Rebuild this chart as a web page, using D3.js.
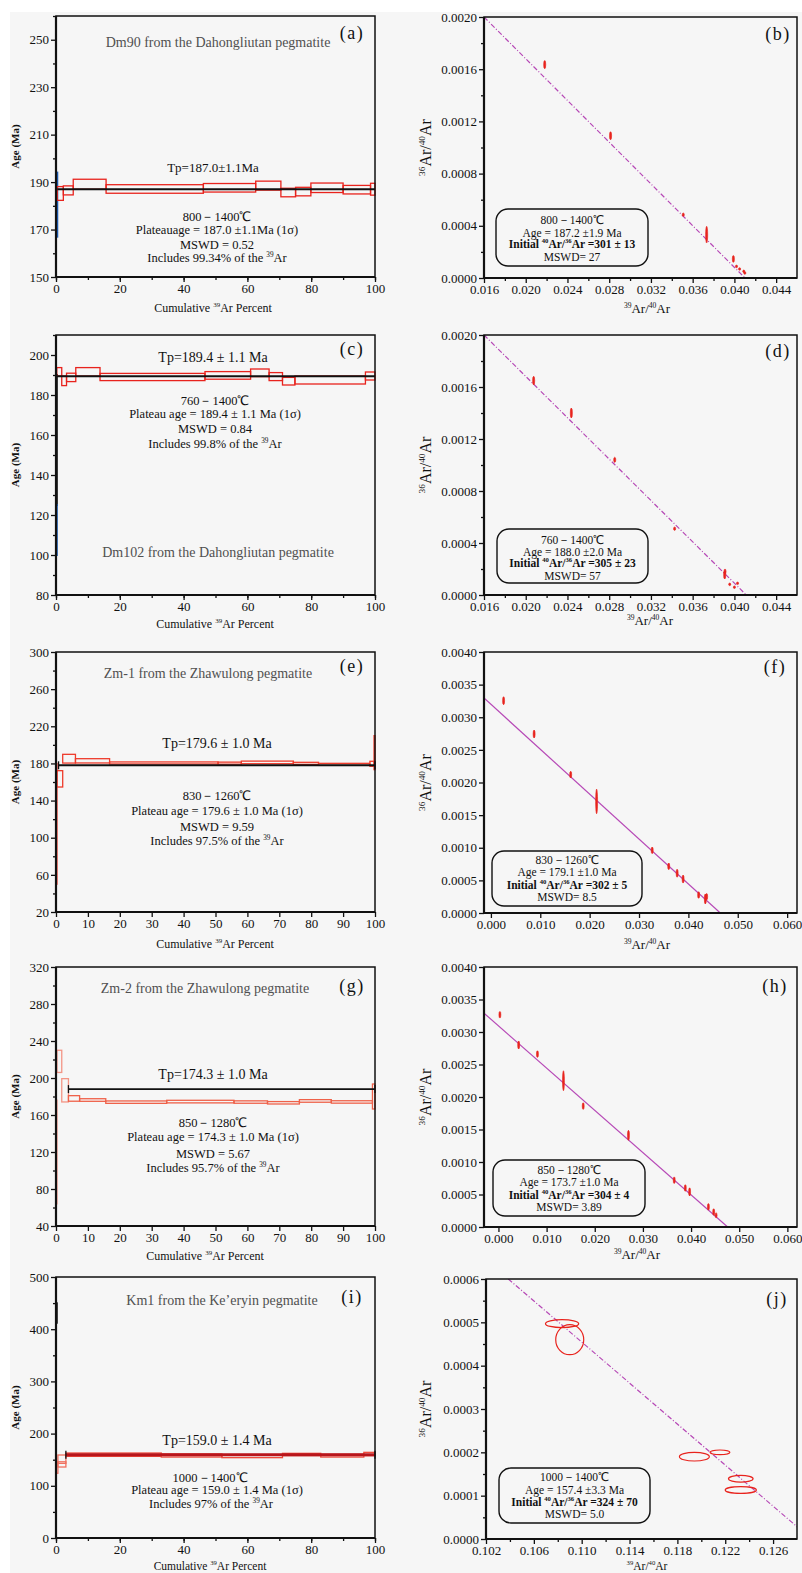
<!DOCTYPE html>
<html>
<head>
<meta charset="utf-8">
<script src="https://cdn.jsdelivr.net/npm/d3@7"></script>
<style>
  body { margin: 0; background: #fff; }
</style>
</head>
<body>
<script>
// ---------- step-heating spectra: [from %, to %, age Ma, ± Ma]
var lowA = [[0, 0.4, 180.5, 13.5]];
var stepsA = [
  [0.4, 2.3, 185.2, 2.9], [2.3, 5.4, 186.5, 1.9], [5.4, 15.7, 189.1, 2.1],
  [15.7, 46.2, 187.1, 1.8], [46.2, 62.6, 187.6, 1.8], [62.6, 70.5, 188.5, 1.9],
  [70.5, 75.1, 185.6, 1.8], [75.1, 79.9, 186.0, 1.8], [79.9, 90.0, 187.6, 2.0],
  [90.0, 98.6, 186.8, 1.8], [98.6, 100, 187.0, 2.5]
];
var plateauA = [0.4, 100, 187.0];

var lowC = [[0, 0.25, 112.5, 12.5]];
var darkC = [[0, 0.25, 157.5, 32.5]];
var stepsC = [
  [0.25, 1.8, 191.6, 2.1], [1.8, 3.3, 187.1, 2.4], [3.3, 6.2, 188.8, 2.1],
  [6.2, 13.8, 191.6, 2.1], [13.8, 46.7, 189.0, 1.8], [46.7, 61.0, 189.8, 1.9],
  [61.0, 66.8, 191.1, 1.9], [66.8, 71.0, 189.2, 2.0], [71.0, 74.9, 186.9, 1.9],
  [74.9, 97.0, 187.5, 2.0], [97.0, 100, 189.5, 2.0]
];
var plateauC = [0, 100, 189.4];

var stepsE = [
  [0, 0.3, 115, 65], [0.3, 2.1, 163.4, 8.8], [2.1, 6.1, 185.1, 4.7],
  [6.1, 16.8, 182.8, 2.3], [16.8, 50.8, 180.5, 1.1], [50.8, 58.1, 180.3, 1.1],
  [58.1, 74.4, 181.1, 1.4], [74.4, 82.3, 180.1, 1.1], [82.3, 98.4, 179.0, 1.1],
  [98.4, 99.7, 179.6, 2.7], [99.7, 100, 191.6, 18.3]
];
var plateauE = [0.8, 100, 178.0];

var lowG = [[0, 0.3, 120, 56], [0.3, 1.8, 218, 12], [1.8, 3.9, 186.7, 12.6]];
var stepsG = [
  [3.9, 7.4, 177.9, 3.0], [7.4, 15.6, 176.2, 1.4], [15.6, 34.7, 173.9, 1.3],
  [34.7, 55.8, 174.5, 1.4], [55.8, 66.3, 174.0, 1.3], [66.3, 76.3, 173.2, 1.3],
  [76.3, 86.3, 175.2, 1.4], [86.3, 99.2, 174.1, 1.3], [99.2, 100, 180, 13.5]
];
var plateauG = [3.9, 100, 188.0];

var darkI = [[0, 0.3, 431, 19]];
var lowI = [[0, 0.6, 134.5, 10.5], [0.6, 3.1, 141, 5], [0.6, 3.1, 151, 8]];
var stepsI = [
  [3.1, 33, 159.6, 3.2], [33, 52, 158.0, 2.9], [52, 71, 156.8, 2.9],
  [71, 83, 160.0, 2.2], [83, 96.5, 157.7, 2.6], [96.5, 100, 160.9, 3.2]
];
var plateauI = [3.1, 100, 159.6];

// ---------- isochrons: [39Ar/40Ar, 36Ar/40Ar, ±x, ±y]
var ptsB = [
  [0.02182, 0.001635, 0.0001, 0.000031], [0.02813, 0.00109, 0.0001, 0.000031],
  [0.0351, 0.000485, 0.0001, 0.000013], [0.03734, 0.000332, 0.0001, 0.000064],
  [0.0399, 0.000146, 0.0001, 0.000026], [0.0402, 0.000089, 0.0001, 0.00001],
  [0.0405, 0.000069, 0.0001, 0.00001], [0.0409, 0.000051, 0.0001, 0.00001],
  [0.0410, 0.000038, 0.0001, 0.00001]
];
var lineB = [[0.016, 0.002], [0.04102, 0]];

var ptsD = [
  [0.02076, 0.001649, 0.0001, 0.000033], [0.02437, 0.0014, 0.0001, 0.000038],
  [0.02853, 0.00104, 0.0001, 0.00002], [0.03427, 0.00051, 0.0001, 0.000013],
  [0.03907, 0.000154, 0.0001, 0.000031], [0.0391, 0.00018, 0.0001, 0.00002],
  [0.03955, 0.000082, 0.0001, 0.00001], [0.0400, 0.00006, 0.0001, 0.00001],
  [0.0403, 0.00009, 0.0001, 0.00001]
];
var lineD = [[0.016, 0.002], [0.04114, 0]];

var ptsF = [
  [0.00257, 0.003254, 0.0002, 0.000061], [0.00875, 0.002743, 0.0002, 0.000061],
  [0.01616, 0.00212, 0.0002, 0.000051], [0.02141, 0.00171, 0.0002, 0.000189],
  [0.03267, 0.00096, 0.0002, 0.000051], [0.03602, 0.000715, 0.0002, 0.000051],
  [0.03772, 0.00061, 0.0002, 0.000061], [0.03893, 0.00052, 0.0002, 0.000061],
  [0.04208, 0.000276, 0.0002, 0.000051], [0.04343, 0.000215, 0.0002, 0.000077],
  [0.0437, 0.00025, 0.0002, 0.00005]
];
var lineF = [[-0.0014, 0.003295], [0.04646, 0]];

var ptsH = [
  [0.0003, 0.003265, 0.0002, 0.000051], [0.0042, 0.0028, 0.0002, 0.000062],
  [0.0081, 0.00266, 0.0002, 0.000051], [0.0135, 0.00225, 0.0002, 0.000154],
  [0.0176, 0.00186, 0.0002, 0.000051], [0.027, 0.00141, 0.0002, 0.000077],
  [0.0365, 0.00072, 0.0002, 0.000051], [0.0388, 0.0006, 0.0002, 0.000051],
  [0.0397, 0.00054, 0.0002, 0.000062], [0.0436, 0.00031, 0.0002, 0.000051],
  [0.0447, 0.00023, 0.0002, 0.000051], [0.0452, 0.00018, 0.0002, 0.000041]
];
var lineH = [[-0.003, 0.00329], [0.0476, 0]];

var ptsJ = [
  [0.10836, 0.000497, 0.00139, 0.0000092], [0.1090, 0.00046, 0.00117, 0.0000347],
  [0.11942, 0.00019, 0.00125, 0.00001], [0.12156, 0.0002, 0.00083, 0.0000054],
  [0.1233, 0.000139, 0.00103, 0.0000077], [0.1233, 0.000113, 0.0013, 0.0000077]
];
var lineJ = [[0.10386, 0.0006], [0.1292, 0]];

// ---------- tick values
var pct20 = [0, 20, 40, 60, 80, 100];
var pct10 = [0, 10, 20, 30, 40, 50, 60, 70, 80, 90, 100];
var ageTicksA = [150, 170, 190, 210, 230, 250];
var ageMinorA = [160, 180, 200, 220, 240, 260];
var ageTicksC = [80, 100, 120, 140, 160, 180, 200];
var ageMinorC = [90, 110, 130, 150, 170, 190, 210];
var ageTicksE = [20, 60, 100, 140, 180, 220, 260, 300];
var ageMinorE = [40, 80, 120, 160, 200, 240, 280];
var ageTicksG = [40, 80, 120, 160, 200, 240, 280, 320];
var ageMinorG = [60, 100, 140, 180, 220, 260, 300];
var ageTicksI = [0, 100, 200, 300, 400, 500];
var ageMinorI = [50, 150, 250, 350, 450];
var ratioX1 = [0.016, 0.020, 0.024, 0.028, 0.032, 0.036, 0.040, 0.044];
var ratioX1m = [0.018, 0.022, 0.026, 0.030, 0.034, 0.038, 0.042];
var ratioY1 = [0, 0.0004, 0.0008, 0.0012, 0.0016, 0.0020];
var ratioY1m = [0.0002, 0.0006, 0.0010, 0.0014, 0.0018];
var ratioX2 = [0, 0.010, 0.020, 0.030, 0.040, 0.050, 0.060];
var ratioY2 = [0, 0.0005, 0.0010, 0.0015, 0.0020, 0.0025, 0.0030, 0.0035, 0.0040];
var ratioX3 = [0.102, 0.106, 0.110, 0.114, 0.118, 0.122, 0.126];
var ratioX3m = [0.104, 0.108, 0.112, 0.116, 0.120, 0.124];
var ratioY3 = [0, 0.0001, 0.0002, 0.0003, 0.0004, 0.0005, 0.0006];
var ratioY3m = [0.00005, 0.00015, 0.00025, 0.00035, 0.00045, 0.00055];

var SERIF = '"Liberation Serif", "Times New Roman", serif';

var svg = d3.select('body').append('svg')
  .attr('width', 802).attr('height', 1573)
  .attr('font-family', SERIF);

svg.append('rect').attr('x', 10).attr('y', 12)
  .attr('width', 792).attr('height', 1561).attr('fill', '#f6f6f6');

// text with ^{sup} pieces
function rich(g, x, y, str, size, opt) {
  opt = opt || {};
  var t = g.append('text').attr('x', x).attr('y', y)
    .attr('font-size', size).attr('text-anchor', opt.anchor || 'middle')
    .attr('fill', opt.fill || '#111');
  if (opt.bold) t.attr('font-weight', 'bold');
  if (opt.rotate) t.attr('transform', 'rotate(-90,' + x + ',' + y + ')');
  if (opt.spacing) t.attr('letter-spacing', opt.spacing);
  var parts = str.split(/(\^\{[^}]*\})/);
  var up = false;
  parts.forEach(function(p) {
    if (!p) return;
    var m = p.match(/^\^\{(.*)\}$/);
    if (m) {
      t.append('tspan').attr('dy', -0.4 * size).attr('font-size', size * 0.58).text(m[1]);
      up = true;
    } else {
      t.append('tspan').attr('dy', up ? 0.4 * size : null).text(p);
      up = false;
    }
  });
  return t;
}

function axes(g, x, y, a) {
  var left = x.range()[0], right = x.range()[1];
  var bottom = y.range()[0], top = y.range()[1];
  function style(s) {
    s.select('.domain').remove();
    s.attr('font-family', SERIF).attr('font-size', 13);
    s.selectAll('line').attr('stroke', '#111').attr('stroke-width', 1.3);
    s.selectAll('text').attr('fill', '#111');
  }
  if (a.xMinor) {
    g.append('g').attr('transform', 'translate(0,' + bottom + ')')
      .call(d3.axisBottom(x).tickValues(a.xMinor).tickSize(3).tickFormat(function() { return ''; }))
      .call(style);
  }
  g.append('g').attr('transform', 'translate(0,' + bottom + ')')
    .call(d3.axisBottom(x).tickValues(a.xTicks).tickSize(5).tickPadding(2).tickFormat(a.xFmt))
    .call(style);
  if (a.yMinor) {
    g.append('g').attr('transform', 'translate(' + left + ',0)')
      .call(d3.axisLeft(y).tickValues(a.yMinor).tickSize(3).tickFormat(function() { return ''; }))
      .call(style);
  }
  g.append('g').attr('transform', 'translate(' + left + ',0)')
    .call(d3.axisLeft(y).tickValues(a.yTicks).tickSize(5).tickPadding(2).tickFormat(a.yFmt))
    .call(style);

  g.append('rect').attr('x', left).attr('y', top)
    .attr('width', right - left).attr('height', bottom - top)
    .attr('fill', 'none').attr('stroke', '#111').attr('stroke-width', 1.5);
  g.append('line').attr('x1', left).attr('x2', left).attr('y1', top).attr('y2', bottom)
    .attr('stroke', '#111').attr('stroke-width', 2.2);
  g.append('line').attr('x1', left).attr('x2', right).attr('y1', bottom).attr('y2', bottom)
    .attr('stroke', '#111').attr('stroke-width', 2);
}

function steps(g, x, y, data, color, w) {
  g.append('g').selectAll('rect').data(data).join('rect')
    .attr('x', function(d) { return x(d[0]); })
    .attr('y', function(d) { return y(d[2] + d[3]); })
    .attr('width', function(d) { return Math.max(0.8, x(d[1]) - x(d[0])); })
    .attr('height', function(d) { return y(d[2] - d[3]) - y(d[2] + d[3]); })
    .attr('fill', 'none').attr('stroke', color).attr('stroke-width', w || 1.3);
}

// ---------- spectrum panels
function spectrum(c) {
  var g = svg.append('g');
  var x = d3.scaleLinear().domain([0, 100]).range([56, 375]);
  var y = d3.scaleLinear().domain(c.yDomain).range([c.bottom, c.top]);

  c.layers.forEach(function(l) { steps(g, x, y, l.data, l.color, l.width); });

  var p = c.plateau;
  g.append('line').attr('x1', x(p[0])).attr('x2', x(p[1]))
    .attr('y1', y(p[2])).attr('y2', y(p[2]))
    .attr('stroke', c.plateauColor || '#111').attr('stroke-width', c.plateauWidth || 2);
  if (c.caps) {
    [p[0], p[1]].forEach(function(v) {
      g.append('line').attr('x1', x(v)).attr('x2', x(v))
        .attr('y1', y(p[2]) - 4).attr('y2', y(p[2]) + 4)
        .attr('stroke', '#111').attr('stroke-width', 1.3);
    });
  }

  axes(g, x, y, {
    xTicks: c.xTicks, xMinor: c.xMinor, xFmt: d3.format('d'),
    yTicks: c.yTicks, yMinor: c.yMinor, yFmt: d3.format('d')
  });

  rich(g, c.title[0], c.title[1], c.title[2], 14, { fill: '#505050' });
  rich(g, 352, c.tag[0], c.tag[1], 18, { spacing: 1.5 });
  rich(g, c.tp[0], c.tp[1], c.tp[2], c.tpSize || 14);
  c.notes.forEach(function(n) { rich(g, n[0], n[1], n[2], 12.5); });
  rich(g, c.xlab[0], c.xlab[1], 'Cumulative ^{39}Ar Percent', c.xlab[2] || 12);
  rich(g, 19, (c.top + c.bottom) / 2, 'Age (Ma)', 11, { rotate: true, bold: true });
}

spectrum({
  top: 16, bottom: 277, yDomain: [150, 260],
  yTicks: ageTicksA, yMinor: ageMinorA, xTicks: pct20, xMinor: pct10,
  layers: [{ data: lowA, color: '#1d5fb8', width: 2 }, { data: stepsA, color: '#e8231d' }],
  plateau: plateauA,
  title: [218, 47, 'Dm90 from the Dahongliutan pegmatite'],
  tag: [39, '(a)'],
  tp: [213, 172, 'Tp=187.0±1.1Ma'], tpSize: 13,
  notes: [[217, 221, '800－1400℃'], [217, 234, 'Plateauage = 187.0 ±1.1Ma (1σ)'],
          [217, 249, 'MSWD = 0.52'], [217, 262, 'Includes  99.34% of the ^{39}Ar']],
  xlab: [213, 312]
});

spectrum({
  top: 335, bottom: 595, yDomain: [80, 210],
  yTicks: ageTicksC, yMinor: ageMinorC, xTicks: pct20, xMinor: pct10,
  layers: [{ data: darkC, color: '#111', width: 2 }, { data: lowC, color: '#1d5fb8', width: 2 },
           { data: stepsC, color: '#e8231d' }],
  plateau: plateauC,
  title: [218, 557, 'Dm102 from the Dahongliutan pegmatite'],
  tag: [355, '(c)'],
  tp: [213, 362, 'Tp=189.4 ± 1.1 Ma'],
  notes: [[215, 405, '760－1400℃'], [215, 418, 'Plateau age = 189.4 ± 1.1 Ma (1σ)'],
          [215, 433, 'MSWD = 0.84'], [215, 448, 'Includes 99.8% of the ^{39}Ar']],
  xlab: [215, 628]
});

spectrum({
  top: 652, bottom: 912, yDomain: [20, 300],
  yTicks: ageTicksE, yMinor: ageMinorE, xTicks: pct10,
  layers: [{ data: stepsE, color: '#ee3b2b' }],
  plateau: plateauE, caps: true,
  title: [208, 678, 'Zm-1 from the Zhawulong pegmatite'],
  tag: [672, '(e)'],
  tp: [217, 748, 'Tp=179.6 ± 1.0 Ma'],
  notes: [[217, 800, '830－1260℃'], [217, 815, 'Plateau age = 179.6 ± 1.0 Ma (1σ)'],
          [217, 831, 'MSWD = 9.59'], [217, 845, 'Includes 97.5% of the ^{39}Ar']],
  xlab: [215, 948]
});

spectrum({
  top: 967, bottom: 1226, yDomain: [40, 320],
  yTicks: ageTicksG, yMinor: ageMinorG, xTicks: pct10,
  layers: [{ data: lowG, color: '#f39585' }, { data: stepsG, color: '#ef6149' }],
  plateau: plateauG, caps: true, plateauWidth: 1.6,
  title: [205, 993, 'Zm-2 from the Zhawulong pegmatite'],
  tag: [992, '(g)'],
  tp: [213, 1079, 'Tp=174.3 ± 1.0 Ma'],
  notes: [[213, 1127, '850－1280℃'], [213, 1141, 'Plateau age = 174.3 ± 1.0 Ma (1σ)'],
          [213, 1158, 'MSWD = 5.67'], [213, 1172, 'Includes 95.7% of the ^{39}Ar']],
  xlab: [205, 1260]
});

spectrum({
  top: 1277, bottom: 1538, yDomain: [0, 500],
  yTicks: ageTicksI, yMinor: ageMinorI, xTicks: pct20, xMinor: pct10,
  layers: [{ data: darkI, color: '#111', width: 1.6 }, { data: lowI, color: '#f0705f' },
           { data: stepsI, color: '#ee4b3b' }],
  plateau: plateauI, plateauColor: '#b8161c', plateauWidth: 3, caps: true,
  title: [222, 1305, 'Km1 from the Ke’eryin pegmatite'],
  tag: [1303, '(i)'],
  tp: [217, 1445, 'Tp=159.0 ± 1.4 Ma'],
  notes: [[210, 1482, '1000－1400℃'], [217, 1494, 'Plateau age = 159.0 ± 1.4 Ma (1σ)'],
          [211, 1508, 'Includes 97% of the ^{39}Ar']],
  xlab: [210, 1569.5, 11.5]
});

// ---------- isochron panels
function isochron(c) {
  var g = svg.append('g');
  var x = d3.scaleLinear().domain(c.xDomain).range([c.left || 484, 797]);
  var y = d3.scaleLinear().domain(c.yDomain).range([c.bottom, c.top]);
  var id = 'clip' + c.tag[1].replace(/\W/g, '');
  svg.append('clipPath').attr('id', id).append('rect')
    .attr('x', x.range()[0]).attr('y', c.top)
    .attr('width', x.range()[1] - x.range()[0]).attr('height', c.bottom - c.top);

  g.append('path').datum(c.line)
    .attr('clip-path', 'url(#' + id + ')')
    .attr('d', d3.line().x(function(d) { return x(d[0]); }).y(function(d) { return y(d[1]); }))
    .attr('fill', 'none').attr('stroke', '#b648b6').attr('stroke-width', 1.2)
    .attr('stroke-dasharray', c.dash || null);

  g.append('g').selectAll('ellipse').data(c.pts).join('ellipse')
    .attr('cx', function(d) { return x(d[0]); })
    .attr('cy', function(d) { return y(d[1]); })
    .attr('rx', function(d) { return x(d[0] + d[2]) - x(d[0]); })
    .attr('ry', function(d) { return y(d[1]) - y(d[1] + d[3]); })
    .attr('fill', c.open ? 'none' : '#e8231d')
    .attr('stroke', '#e8231d').attr('stroke-width', c.open ? 1.2 : 0.6);

  axes(g, x, y, {
    xTicks: c.xTicks, xMinor: c.xMinor, xFmt: d3.format('.3f'),
    yTicks: c.yTicks, yMinor: c.yMinor, yFmt: d3.format('.4f')
  });

  var b = c.box;
  g.append('rect').attr('x', b[0]).attr('y', b[1])
    .attr('width', b[2] - b[0]).attr('height', b[3] - b[1])
    .attr('rx', 12).attr('fill', 'none').attr('stroke', '#111').attr('stroke-width', 1.4);
  var cx = (b[0] + b[2]) / 2;
  c.notes.forEach(function(n, i) {
    rich(g, cx, n[0], n[1], 11.5, { bold: i === 2 });
  });

  rich(g, c.tag[2], c.tag[0], c.tag[1], 18, { spacing: 1.5 });
  rich(g, c.xlab[0], c.xlab[1], '^{39}Ar/^{40}Ar', c.xlab[2] || 13);
  rich(g, 431, (c.top + c.bottom) / 2, '^{36}Ar/^{40}Ar', 16, { rotate: true });
}

isochron({
  top: 17, bottom: 278, xDomain: [0.016, 0.046], yDomain: [0, 0.002],
  xTicks: ratioX1, xMinor: ratioX1m, yTicks: ratioY1, yMinor: ratioY1m,
  pts: ptsB, line: lineB, dash: '5,2,1,2',
  box: [496, 209, 648, 266],
  notes: [[224, '800－1400℃'], [237, 'Age = 187.2 ±1.9 Ma'],
          [248, 'Initial ^{40}Ar/^{36}Ar =301 ± 13'], [261, 'MSWD= 27']],
  tag: [40, '(b)', 778], xlab: [647, 313]
});

isochron({
  top: 335, bottom: 595, xDomain: [0.016, 0.046], yDomain: [0, 0.002],
  xTicks: ratioX1, xMinor: ratioX1m, yTicks: ratioY1, yMinor: ratioY1m,
  pts: ptsD, line: lineD, dash: '5,2,1,2',
  box: [497, 529, 648, 583],
  notes: [[544, '760－1400℃'], [556, 'Age = 188.0 ±2.0 Ma'],
          [567, 'Initial ^{40}Ar/^{36}Ar =305 ± 23'], [580, 'MSWD= 57']],
  tag: [357, '(d)', 778], xlab: [650, 625]
});

isochron({
  top: 652, bottom: 913, xDomain: [-0.0014, 0.062], yDomain: [0, 0.004],
  xTicks: ratioX2, yTicks: ratioY2,
  pts: ptsF, line: lineF,
  box: [492, 851, 642, 906],
  notes: [[864, '830－1260℃'], [876, 'Age = 179.1 ±1.0 Ma'],
          [889, 'Initial ^{40}Ar/^{36}Ar =302 ± 5'], [901, 'MSWD= 8.5']],
  tag: [673, '(f)', 775], xlab: [647, 949]
});

isochron({
  top: 967, bottom: 1227, xDomain: [-0.003, 0.062], yDomain: [0, 0.004],
  xTicks: ratioX2, yTicks: ratioY2,
  pts: ptsH, line: lineH,
  box: [493, 1160, 645, 1216],
  notes: [[1174, '850－1280℃'], [1186, 'Age = 173.7 ±1.0 Ma'],
          [1199, 'Initial ^{40}Ar/^{36}Ar =304 ± 4'], [1211, 'MSWD= 3.89']],
  tag: [992, '(h)', 775], xlab: [637, 1259]
});

isochron({
  top: 1279, bottom: 1539, left: 486, xDomain: [0.102, 0.128], yDomain: [0, 0.0006],
  xTicks: ratioX3, xMinor: ratioX3m, yTicks: ratioY3, yMinor: ratioY3m,
  pts: ptsJ, line: lineJ, dash: '5,2,1,2', open: true,
  box: [499, 1468, 650, 1523],
  notes: [[1481, '1000－1400℃'], [1494, 'Age = 157.4 ±3.3 Ma'],
          [1506, 'Initial ^{40}Ar/^{36}Ar =324 ± 70'], [1518, 'MSWD= 5.0']],
  tag: [1305, '(j)', 777], xlab: [647, 1570, 11.5]
});
</script>
</body>
</html>
